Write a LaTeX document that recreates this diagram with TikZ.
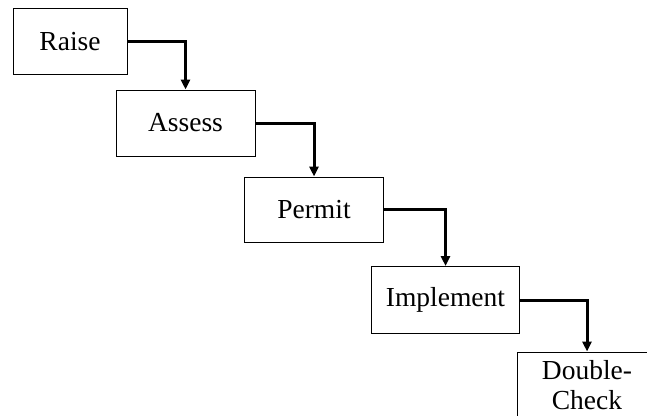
\documentclass[tikz,border=0pt]{standalone}
\usepackage{fontspec}
\setmainfont{Liberation Serif}
\usepackage{tikz}
\usetikzlibrary{arrows.meta}

\begin{document}
\begin{tikzpicture}[x=1pt,y=-1pt,
  stepbox/.style={draw, line width=1pt, inner sep=0pt, font=\fontsize{27.5}{30}\selectfont, align=center},
  flow/.style={line width=3pt, -{Triangle[width=9pt,length=10pt]}}]
\clip (0,0) rectangle (647,415);
\node[stepbox, minimum width=114pt, minimum height=66pt] (raise) at (70,41.5) {Raise};
\node[stepbox, minimum width=139pt, minimum height=66pt] (assess) at (185.5,123) {Assess};
\node[stepbox, minimum width=139pt, minimum height=65pt] (permit) at (314,209.5) {Permit};
\node[stepbox, minimum width=148pt, minimum height=67pt] (implement) at (445.5,300) {Implement};
\node[stepbox, minimum width=140pt, minimum height=67pt] (check) at (587,385.5) {Double-\\Check};

\draw[flow] (raise.east) -| (assess.north);
\draw[flow] (assess.east) -| (permit.north);
\draw[flow] (permit.east) -| (implement.north);
\draw[flow] (implement.east) -| (check.north);
\end{tikzpicture}
\end{document}
